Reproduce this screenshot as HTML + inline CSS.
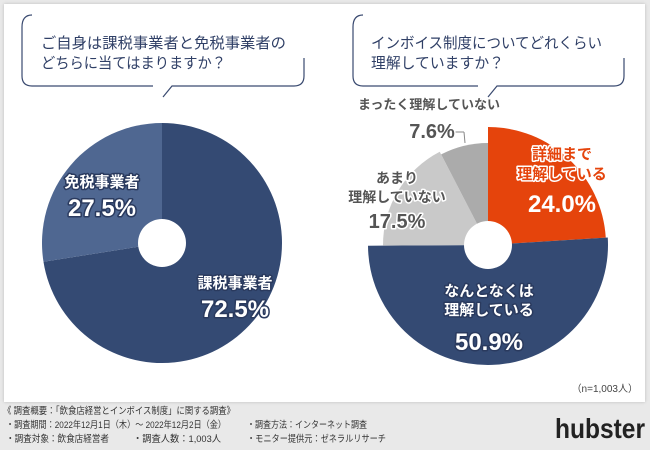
<!DOCTYPE html>
<html><head><meta charset="utf-8"><style>
body{margin:0;width:650px;height:450px;background:#e9e9e9;font-family:"Liberation Sans","Noto Sans CJK JP",sans-serif;overflow:hidden;position:relative}
#panel{position:absolute;left:4px;top:4px;width:641px;height:398px;background:#fff;box-shadow:0 0 3px #bbb}
</style></head><body>
<div id="panel"></div>
<svg width="650" height="450" style="position:absolute;left:0;top:0" font-family="Liberation Sans,Noto Sans CJK JP,sans-serif">
<path d="M32,15 Q22,15 22,27 V76 Q22,86 32,86 H153 M163,97 L172,86 H294 Q304,86 304,76 V58" fill="none" stroke="#3a4a70" stroke-width="1.2"/>
<text x="41" y="48" font-size="15" fill="#2f3f66" textLength="245" lengthAdjust="spacingAndGlyphs">ご自身は課税事業者と免税事業者の</text>
<text x="41" y="68" font-size="15" fill="#2f3f66" textLength="185" lengthAdjust="spacingAndGlyphs">どちらに当てはまりますか？</text>
<path d="M363,15 Q353,15 353,27 V76 Q353,86 363,86 H478 M488,97 L497,86 H614 Q624,86 624,76 V58" fill="none" stroke="#3a4a70" stroke-width="1.2"/>
<text x="371" y="48" font-size="15" fill="#2f3f66" textLength="231" lengthAdjust="spacingAndGlyphs">インボイス制度についてどれくらい</text>
<text x="371" y="68" font-size="15" fill="#2f3f66" textLength="133" lengthAdjust="spacingAndGlyphs">理解していますか？</text>
<g id="g1"></g><g id="g2"></g>
<line x1="455" y1="132" x2="464" y2="132" stroke="#888"/>
<line x1="464" y1="132" x2="465" y2="143" stroke="#888"/>
<text x="638" y="392" font-size="10" fill="#444" text-anchor="end">（n=1,003人）</text>
<text x="645" y="438" font-size="28" font-weight="bold" fill="#222" text-anchor="end" textLength="90" lengthAdjust="spacingAndGlyphs">hubster</text>
<g font-size="9.5" fill="#333">
<text x="3" y="414" textLength="232" lengthAdjust="spacingAndGlyphs">《 調査概要：「飲食店経営とインボイス制度」に関する調査》</text>
<text x="6" y="428" textLength="220" lengthAdjust="spacingAndGlyphs">・調査期間：2022年12月1日（木）～ 2022年12月2日（金）</text>
<text x="6" y="442" textLength="103" lengthAdjust="spacingAndGlyphs">・調査対象：飲食店経営者</text>
<text x="133" y="442" textLength="88" lengthAdjust="spacingAndGlyphs">・調査人数：1,003人</text>
<text x="247" y="428" textLength="120" lengthAdjust="spacingAndGlyphs">・調査方法：インターネット調査</text>
<text x="247" y="442" textLength="139" lengthAdjust="spacingAndGlyphs">・モニター提供元：ゼネラルリサーチ</text>
</g>
</svg>
<script>
const cats1=["課税事業者","免税事業者"];
const vals1=[72.5,27.5];
const cats2=["詳細まで理解している","なんとなくは理解している","あまり理解していない","まったく理解していない"];
const vals2=[24.0,50.9,17.5,7.6];
const NS="http://www.w3.org/2000/svg";
function arc(cx,cy,r,a0,a1){const p=a=>[cx+r*Math.sin(a),cy-r*Math.cos(a)];const s=p(a0),e=p(a1);const l=(a1-a0)>Math.PI?1:0;return `M${cx},${cy}L${s[0]},${s[1]}A${r},${r} 0 ${l} 1 ${e[0]},${e[1]}Z`;}
function pie(g,vals,cx,cy,radii,colors,names){const tot=vals.reduce((a,b)=>a+b,0);let a=0;vals.forEach((v,i)=>{const a1=a+v/tot*2*Math.PI;const p=document.createElementNS(NS,"path");p.setAttribute("d",arc(cx,cy,radii[i],a,a1));p.setAttribute("fill",colors[i]);


g.appendChild(p);a=a1;});const c=document.createElementNS(NS,"circle");c.setAttribute("cx",cx);c.setAttribute("cy",cy);c.setAttribute("r",24);c.setAttribute("fill","#fff");


g.appendChild(c);}
pie(document.getElementById("g1"),vals1,162,243,[120,120],["#344a73","#4f6791"],["slice-taxable","slice-exempt"]);
pie(document.getElementById("g2"),vals2,488,245,[118,120,105,102],["#e5440c","#344a73","#c9c9c9","#ababab"],["slice-detailed","slice-somewhat","slice-little","slice-none"]);
function lbl(x,y,t,size,fill,stroke,sw,name){const e=document.createElementNS(NS,"text");e.setAttribute("x",x);e.setAttribute("y",y);e.setAttribute("font-size",size);e.setAttribute("font-weight","bold");e.setAttribute("fill",fill);e.setAttribute("stroke",stroke);e.setAttribute("stroke-width",sw);e.setAttribute("paint-order","stroke");e.setAttribute("stroke-linejoin","round");e.setAttribute("text-anchor","middle");e.setAttribute("font-family","Liberation Sans,Noto Sans CJK JP,sans-serif");e.textContent=t;


document.querySelector("svg").appendChild(e);}
const f=v=>v.toFixed(1)+"%";
lbl(102,187,cats1[1],15,"#fff","#2a3a5e",3,"label-exempt");
lbl(102,216,f(vals1[1]),24,"#fff","#2a3a5e",3,"value-exempt");
lbl(235,288,cats1[0],15,"#fff","#2a3a5e",3,"label-taxable");
lbl(235,317,f(vals1[0]),24,"#fff","#2a3a5e",3,"value-taxable");
lbl(562,159,"詳細まで",15,"#e5440c","#fff",3,"label-detailed");
lbl(562,179,"理解している",15,"#e5440c","#fff",3,"label-detailed-2");
lbl(562,212,f(vals2[0]),24,"#fff","#e5440c",3,"value-detailed");
lbl(489,296,"なんとなくは",15,"#fff","#2a3a5e",3,"label-somewhat");
lbl(489,315,"理解している",15,"#fff","#2a3a5e",3,"label-somewhat-2");
lbl(489,350,f(vals2[1]),24,"#fff","#2a3a5e",3,"value-somewhat");
lbl(397,183,"あまり",14,"#555","#fff",3,"label-little");
lbl(397,202,"理解していない",14,"#555","#fff",3,"label-little-2");
lbl(397,228,f(vals2[2]),20,"#555","#fff",3,"value-little");
lbl(429,109,"まったく理解していない",13,"#555","#fff",3,"label-none");
lbl(432,138,f(vals2[3]),20,"#555","#fff",3,"value-none");
</script>
</body></html>
